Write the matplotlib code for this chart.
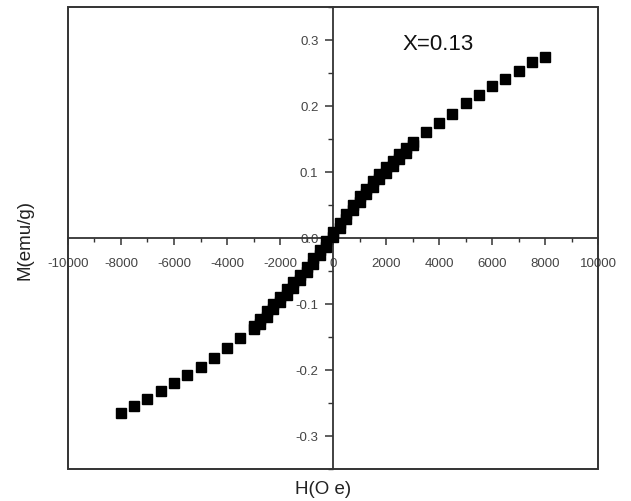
import matplotlib
matplotlib.use("Agg")
import matplotlib.pyplot as plt
from matplotlib.patches import Rectangle
from matplotlib.ticker import MultipleLocator

plt.rcParams['font.family'] = ['Liberation Sans', 'DejaVu Sans']

# High-field points (both sweep directions overlap)
H_high_neg = [-8000, -7500, -7000, -6500, -6000, -5500, -5000, -4500, -4000, -3500]
M_high_neg = [-0.265, -0.255, -0.244, -0.232, -0.220, -0.207, -0.195, -0.182, -0.167, -0.152]
H_high_pos = [3500, 4000, 4500, 5000, 5500, 6000, 6500, 7000, 7500, 8000]
M_high_pos = [0.160, 0.175, 0.188, 0.2045, 0.217, 0.230, 0.241, 0.2535, 0.266, 0.275]

# Low-field region: field-increasing and field-decreasing sweeps
H_low = [-3000, -2750, -2500, -2250, -2000, -1750, -1500, -1250, -1000, -750, -500, -250,
         0, 250, 500, 750, 1000, 1250, 1500, 1750, 2000, 2250, 2500, 2750, 3000]
M_up = [-0.138, -0.130, -0.119, -0.108, -0.097, -0.086, -0.075, -0.064, -0.052, -0.039, -0.026, -0.013,
        0.001, 0.015, 0.029, 0.042, 0.055, 0.067, 0.078, 0.089, 0.099, 0.109, 0.119, 0.129, 0.141]
M_down = [-0.134, -0.122, -0.111, -0.100, -0.089, -0.078, -0.067, -0.056, -0.044, -0.031, -0.018, -0.005,
          0.009, 0.023, 0.037, 0.050, 0.063, 0.075, 0.086, 0.097, 0.107, 0.117, 0.127, 0.137, 0.145]

x_ticks = [-10000, -8000, -6000, -4000, -2000, 0, 2000, 4000, 6000, 8000, 10000]
y_ticks = [-0.3, -0.2, -0.1, 0.0, 0.1, 0.2, 0.3]
annotation = "X=0.13"
xlabel = "H(O e)"
ylabel = "M(emu/g)"

fig = plt.figure(figsize=(6.31, 5.02), dpi=100)
ax = fig.add_axes([68/631, 1-470/502, 530/631, 462/502])

style = dict(linestyle='none', marker='s', markersize=7.5, color='black',
             zorder=5, clip_on=False)
ax.plot(H_high_neg, M_high_neg, **style)
ax.plot(H_high_pos, M_high_pos, **style)
ax.plot(H_low, M_up, **style)
ax.plot(H_low, M_down, **style)

ax.set_xlim(-10000, 10000)
ax.set_ylim(-0.35, 0.35)

frame_color = '#333333'
for side in ['top', 'right']:
    ax.spines[side].set_visible(False)
ax.spines['left'].set_position(('data', 0))
ax.spines['bottom'].set_position(('data', 0))
for side in ['left', 'bottom']:
    ax.spines[side].set_color(frame_color)
    ax.spines[side].set_linewidth(1.3)

ax.add_patch(Rectangle((0, 0), 1, 1, transform=ax.transAxes, fill=False,
                       edgecolor=frame_color, linewidth=1.4, clip_on=False, zorder=4))

ax.set_xticks(x_ticks)
ax.set_xticklabels([f"{t:d}" for t in x_ticks])
ax.set_yticks(y_ticks)
ax.set_yticklabels([f"{t:.1f}" for t in y_ticks])
ax.xaxis.set_minor_locator(MultipleLocator(1000))
ax.yaxis.set_minor_locator(MultipleLocator(0.05))

ax.tick_params(axis='x', which='major', direction='out', length=4.8, width=1.1,
               color=frame_color, labelsize=9.5, labelcolor='#444444', pad=9)
ax.tick_params(axis='x', which='minor', direction='out', length=3, width=1.0, color=frame_color)
ax.tick_params(axis='y', which='major', direction='out', length=5.5, width=1.1,
               color=frame_color, labelsize=9.5, labelcolor='#444444', pad=5)
ax.tick_params(axis='y', which='minor', direction='out', length=3.5, width=1.0, color=frame_color)

ax.text(0.698, 0.922, annotation, transform=ax.transAxes, fontsize=16,
        ha='center', va='center', color='#111111')

fig.text(323/631, 1-490/502, xlabel, ha='center', va='center', fontsize=13.5, color='#222222')
fig.text(25/631, 1-240/502, ylabel, ha='center', va='center', rotation=90,
         fontsize=13.5, color='#222222')

fig.savefig("out.png", dpi=100)
